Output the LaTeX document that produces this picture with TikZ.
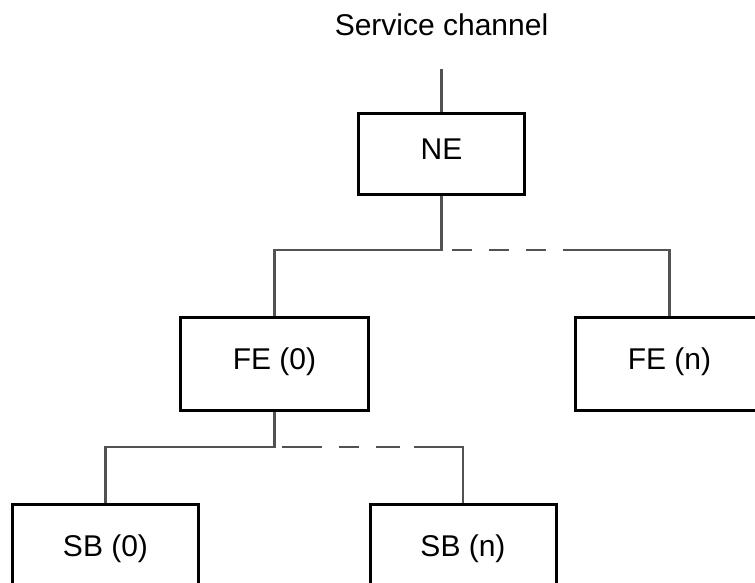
\documentclass[tikz,border=0pt]{standalone}
\usepackage{fontspec}
\setmainfont{Liberation Sans}
\begin{document}
\begin{tikzpicture}[x=1pt, y=-1pt,
  unit/.style={draw=black, line width=3pt, fill=white, inner sep=0pt,
    minimum width=188pt, minimum height=93pt,
    text height=22pt, text depth=12pt,
    font=\fontsize{30}{36}\selectfont},
  wire/.style={draw=black!68, line width=2.1pt},
  caption/.style={font=\fontsize{30}{36}\selectfont, anchor=base, inner sep=0pt}]
  \useasboundingbox (0,0) rectangle (755,582);
  \clip (0,0) rectangle (755,582);

  % network element and its service channel
  \node[caption] (svc) at (441.5,35) {Service channel};
  \node[unit, minimum width=166pt, minimum height=81pt] (NE) at (441.5,154) {NE};
  \coordinate (sc) at (441.5,69);
  \draw[wire] (sc) -- (NE.north);

  % functional entities
  \node[unit] (FE0) at (274.5,364) {FE (0)};
  \node[unit] (FEn) at (669.5,364) {FE (n)};

  % sub-blocks
  \node[unit, minimum width=186pt] (SB0) at (105.5,551) {SB (0)};
  \node[unit, minimum width=186pt] (SBn) at (463,551) {SB (n)};

  % NE -> FE branch
  \coordinate (j1) at (441.5,250);
  \coordinate (k1) at (564,250);
  \draw[wire] (NE.south) -- (j1) -| (FE0.north);
  \draw[wire, dash pattern=on 20pt off 17pt, dash phase=27pt] (j1) -- (k1);
  \draw[wire] (k1) -| (FEn.north);

  % FE (0) -> SB branch
  \coordinate (j2) at (274.5,447);
  \coordinate (k2) at (414,447);
  \draw[wire] (FE0.south) -- (j2) -| (SB0.north);
  \draw[wire, dash pattern=on 0pt off 7pt on 40pt off 17pt on 20pt off 17pt on 24pt off 14pt] (j2) -- (k2);
  \draw[wire] (k2) -| (SBn.north);
\end{tikzpicture}
\end{document}
